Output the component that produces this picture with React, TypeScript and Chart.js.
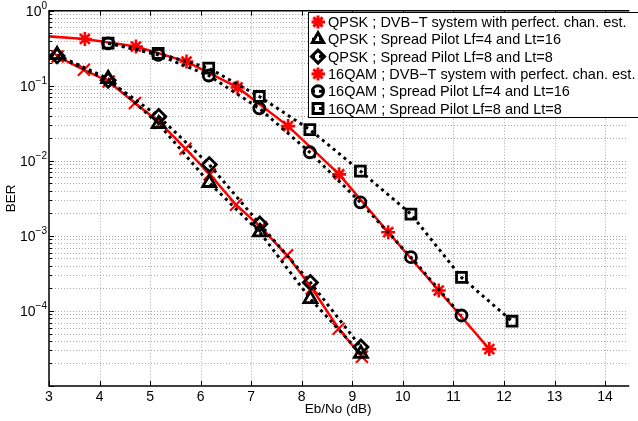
import React, { useEffect, useRef } from 'react';
import { Chart, registerables } from 'chart.js';

Chart.register(...registerables);

// ---- data ----
const qpskPerfX = [3.17, 3.69, 4.18, 4.70, 5.20, 5.70, 6.18, 6.70, 7.19, 7.71, 8.20, 8.73, 9.19];
const qpskPerfY = [0.245, 0.163, 0.114, 0.059, 0.032, 0.0145, 0.0066, 0.0026, 0.0013, 5.5e-4, 2.0e-4, 5.8e-5, 2.45e-5];

const qpskSpX = [3.16, 4.17, 5.17, 6.17, 7.17, 8.17, 9.17];
const qpskLf4Y = [0.258, 0.124, 0.031, 0.0051, 0.00112, 1.45e-4, 2.7e-5];
const qpskLf8Y = [0.25, 0.118, 0.039, 0.0089, 0.00144, 2.4e-4, 3.3e-5];

const qamPerfX = [2.71, 3.71, 4.72, 5.72, 6.73, 7.73, 8.74, 9.71, 10.71, 11.71];
const qamPerfY = [0.47, 0.42, 0.333, 0.21, 0.095, 0.029, 0.0066, 0.00112, 1.87e-4, 3.1e-5];

const qamSpX = [4.17, 5.16, 6.16, 7.16, 8.16, 9.16, 10.16, 11.16, 12.16];
const qamLf4Y = [0.368, 0.258, 0.137, 0.050, 0.013, 0.0028, 5.2e-4, 8.7e-5];
const qamLf8Y = [0.37, 0.27, 0.172, 0.072, 0.026, 0.0073, 0.00195, 2.8e-4, 7.3e-5];

const seriesLabels = [
  'QPSK ; DVB\u2212T system with perfect. chan. est.',
  'QPSK ; Spread Pilot Lf=4 and Lt=16',
  'QPSK ; Spread Pilot Lf=8 and Lt=8',
  '16QAM ; DVB\u2212T system with perfect. chan. est.',
  '16QAM ; Spread Pilot Lf=4 and Lt=16',
  '16QAM ; Spread Pilot Lf=8 and Lt=8',
];

const xTickValues = [3, 4, 5, 6, 7, 8, 9, 10, 11, 12, 13, 14];
const yMajorExponents = [0, -1, -2, -3, -4];
const xTitle = 'Eb/No (dB)';
const yTitle = 'BER';

const FONT = '"Liberation Sans", Arial, Helvetica, sans-serif';

type Sty = { style: string; color: string; r: number; lw: number; legR: number; dotted: boolean };
const styles: Sty[] = [
  { style: 'crossRot', color: '#ff0000', r: 8.5, lw: 2.2, legR: 6.5, dotted: false },
  { style: 'triangle', color: '#000000', r: 7.5, lw: 2.8, legR: 6.5, dotted: true },
  { style: 'rectRot', color: '#000000', r: 7, lw: 2.8, legR: 6.5, dotted: true },
  { style: 'star', color: '#ff0000', r: 7, lw: 2.6, legR: 6.5, dotted: false },
  { style: 'circle', color: '#000000', r: 5.5, lw: 2.8, legR: 5.5, dotted: true },
  { style: 'rect', color: '#000000', r: 7, lw: 2.8, legR: 7, dotted: true },
];
const legendMarkerStyles = ['star', 'triangle', 'rectRot', 'star', 'circle', 'rect'];

function drawMarker(ctx: CanvasRenderingContext2D, style: string, x: number, y: number, r: number, color: string, lw: number) {
  ctx.save();
  ctx.strokeStyle = color;
  ctx.lineWidth = lw;
  ctx.setLineDash([]);
  ctx.beginPath();
  const line = (a: number) => {
    const dx = Math.cos(a) * r, dy = Math.sin(a) * r;
    ctx.moveTo(x - dx, y - dy);
    ctx.lineTo(x + dx, y + dy);
  };
  if (style === 'star') {
    [0, Math.PI / 4, Math.PI / 2, (3 * Math.PI) / 4].forEach(line);
  } else if (style === 'crossRot') {
    [Math.PI / 4, (3 * Math.PI) / 4].forEach(line);
  } else if (style === 'triangle') {
    for (let i = 0; i < 3; i++) {
      const a = (i * 2 * Math.PI) / 3;
      const px = x + Math.sin(a) * r, py = y - Math.cos(a) * r;
      if (i === 0) ctx.moveTo(px, py); else ctx.lineTo(px, py);
    }
    ctx.closePath();
  } else if (style === 'rectRot') {
    ctx.moveTo(x, y - r); ctx.lineTo(x + r, y); ctx.lineTo(x, y + r); ctx.lineTo(x - r, y); ctx.closePath();
  } else if (style === 'circle') {
    ctx.arc(x, y, r, 0, Math.PI * 2);
  } else if (style === 'rect') {
    const h = r * Math.SQRT1_2;
    ctx.rect(x - h, y - h, 2 * h, 2 * h);
  }
  ctx.stroke();
  ctx.restore();
}

const framePlugin = {
  id: 'matlabFrame',
  beforeDatasetsDraw(chart: any) {
    const { ctx, chartArea, scales } = chart;
    const { left, right, top, bottom } = chartArea;
    const xs = scales.x, ys = scales.y;
    ctx.save();
    ctx.strokeStyle = '#a8a8a8';
    ctx.lineWidth = 1;
    ctx.setLineDash([1, 2]);
    ctx.beginPath();
    xTickValues.forEach((v) => {
      if (v <= xs.min) return;
      const px = Math.round(xs.getPixelForValue(v)) + 0.5;
      ctx.moveTo(px, top);
      ctx.lineTo(px, bottom);
    });
    for (let d = -5; d <= 0; d++) {
      for (let m = 1; m <= 9; m++) {
        const v = m * Math.pow(10, d);
        if (v <= ys.min * 1.0001 || v >= ys.max * 0.9999) continue;
        const py = Math.round(ys.getPixelForValue(v)) + 0.5;
        ctx.moveTo(left, py);
        ctx.lineTo(right, py);
      }
    }
    ctx.stroke();
    ctx.restore();
  },
  afterDatasetsDraw(chart: any) {
    const { ctx, chartArea, scales } = chart;
    const { left, right, top, bottom } = chartArea;
    const xs = scales.x, ys = scales.y;
    ctx.save();
    ctx.setLineDash([]);
    ctx.strokeStyle = '#000';
    // tick marks (inward)
    ctx.lineWidth = 1;
    ctx.beginPath();
    xTickValues.forEach((v) => {
      const px = Math.round(xs.getPixelForValue(v)) + 0.5;
      ctx.moveTo(px, bottom); ctx.lineTo(px, bottom - 5);
      ctx.moveTo(px, top); ctx.lineTo(px, top + 5);
    });
    for (let d = -5; d <= 0; d++) {
      for (let m = 1; m <= 9; m++) {
        const v = m * Math.pow(10, d);
        if (v < ys.min * 0.9999 || v > ys.max * 1.0001) continue;
        const py = Math.round(ys.getPixelForValue(v)) + 0.5;
        ctx.moveTo(left, py); ctx.lineTo(left + (m === 1 ? 5 : 3), py);
      }
    }
    ctx.stroke();
    // box
    ctx.lineWidth = 1.5;
    ctx.beginPath();
    ctx.moveTo(right + 2, top); ctx.lineTo(left, top); ctx.lineTo(left, bottom); ctx.lineTo(right + 2, bottom);
    ctx.stroke();

    // y tick labels with superscripts
    ctx.fillStyle = '#000';
    yMajorExponents.forEach((e) => {
      const py = ys.getPixelForValue(Math.pow(10, e));
      const expTxt = e === 0 ? '0' : '\u2212' + String(-e);
      ctx.font = `10px ${FONT}`;
      const ew = ctx.measureText(expTxt).width;
      const expRight = left - 2;
      ctx.textAlign = 'right';
      ctx.textBaseline = 'alphabetic';
      ctx.fillText(expTxt, expRight, py - 2);
      ctx.font = `14px ${FONT}`;
      ctx.textBaseline = 'middle';
      ctx.fillText('10', expRight - ew, py + 1);
    });

    // legend
    const lx = 308.5, ly = 12.5, lb = 117.5;
    ctx.fillStyle = '#fff';
    ctx.fillRect(lx, ly, chart.width - lx + 5, lb - ly);
    ctx.strokeStyle = '#000';
    ctx.lineWidth = 1;
    ctx.strokeRect(lx, ly, chart.width - lx + 5, lb - ly);
    ctx.font = `14.5px ${FONT}`;
    ctx.textAlign = 'left';
    ctx.textBaseline = 'middle';
    seriesLabels.forEach((lab, i) => {
      const cy = ly + 9.5 + i * 17.3;
      const s = styles[i];
      ctx.save();
      ctx.strokeStyle = s.color;
      ctx.lineWidth = s.dotted ? 3 : 2.5;
      ctx.setLineDash(s.dotted ? [3, 4] : []);
      ctx.beginPath();
      ctx.moveTo(312, cy); ctx.lineTo(325, cy);
      ctx.stroke();
      ctx.restore();
      drawMarker(ctx, legendMarkerStyles[i], 318, cy, s.legR, s.color, 3);
      ctx.fillStyle = '#000';
      ctx.fillText(lab, 328, cy + 1);
    });
    ctx.restore();
  },
};

function pts(xs: number[], ys: number[]) {
  return ys.map((y, i) => ({ x: xs[i], y }));
}

export default function App() {
  const ref = useRef<HTMLCanvasElement | null>(null);
  useEffect(() => {
    if (!ref.current) return;
    const seriesData = [
      pts(qpskPerfX, qpskPerfY),
      pts(qpskSpX, qpskLf4Y),
      pts(qpskSpX, qpskLf8Y),
      pts(qamPerfX, qamPerfY),
      pts(qamSpX, qamLf4Y),
      pts(qamSpX, qamLf8Y),
    ];
    const datasets = seriesData.map((data, i) => {
      const s = styles[i];
      return {
        label: seriesLabels[i],
        data,
        order: 10 - i,
        borderColor: s.color,
        borderWidth: s.dotted ? 3 : 2.5,
        borderDash: s.dotted ? [3, 4] : [],
        borderCapStyle: 'butt' as const,
        fill: false,
        tension: 0,
        pointStyle: s.style,
        pointRadius: s.r,
        pointBorderWidth: s.lw,
        pointBorderColor: s.color,
        pointBackgroundColor: 'rgba(0,0,0,0)',
        pointHoverRadius: s.r,
      };
    });
    const chart = new Chart(ref.current, {
      type: 'line',
      data: { datasets } as any,
      options: {
        animation: false,
        responsive: false,
        devicePixelRatio: 1,
        layout: { padding: { top: 9, left: 0, right: 0, bottom: 0 } },
        font: { family: FONT },
        plugins: { legend: { display: false }, tooltip: { enabled: false } },
        scales: {
          x: {
            type: 'linear',
            min: 3,
            max: 14.44,
            afterBuildTicks: (s: any) => {
              s.ticks = xTickValues.map((v) => ({ value: v }));
            },
            afterFit: (s: any) => {
              s.height = 35;
            },
            grid: { display: false, drawTicks: false },
            border: { display: false },
            ticks: {
              color: '#000',
              font: { size: 14, family: FONT },
              padding: 3,
              maxRotation: 0,
              autoSkip: false,
              callback: (v: any) => String(v),
            },
            title: {
              display: true,
              text: xTitle,
              color: '#000',
              font: { size: 13.5, family: FONT },
              padding: { top: 0, bottom: 4 },
            },
          },
          y: {
            type: 'logarithmic',
            min: 1e-5,
            max: 1,
            afterFit: (s: any) => {
              s.width = 49;
            },
            grid: { display: false, drawTicks: false },
            border: { display: false },
            ticks: { display: false },
            title: {
              display: true,
              text: yTitle,
              color: '#000',
              font: { size: 13.5, family: FONT },
              padding: { top: 3, bottom: 0 },
            },
          },
        },
      } as any,
      plugins: [framePlugin],
    });
    return () => chart.destroy();
  }, []);
  return (
    <div style={{ position: 'fixed', left: 0, top: 0, width: 638, height: 421, background: '#fff' }}>
      <canvas ref={ref} width={638} height={421} style={{ display: 'block', width: 638, height: 421 }} />
    </div>
  );
}
